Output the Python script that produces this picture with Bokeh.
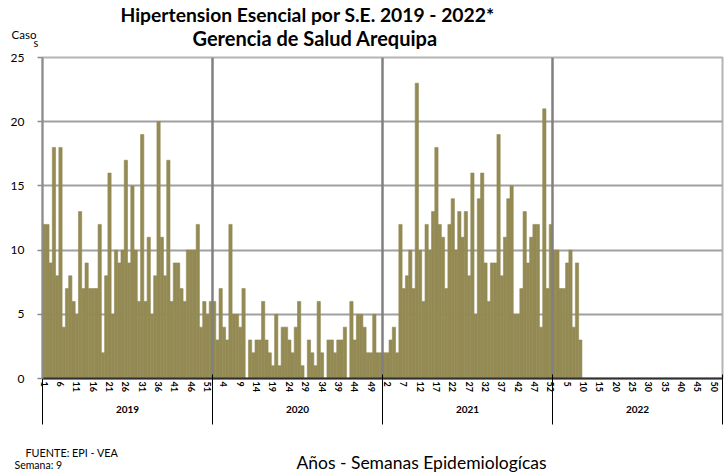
from bokeh.plotting import figure
from bokeh.layouts import column
from bokeh.models import ColumnDataSource, Range1d, FixedTicker, LinearAxis, CustomLabelingPolicy
from bokeh.embed import file_html
from bokeh.resources import INLINE
from bokeh.core.properties import value

# ---------------- data ----------------
years = ["2019", "2020", "2021", "2022"]
weeks_per_year = [52, 52, 52, 52]

cases_2019 = [12, 12, 9, 18, 8, 18, 4, 7, 8, 6, 5, 13, 7, 9, 7, 7, 7, 12, 2, 8,
              16, 5, 10, 9, 10, 17, 9, 15, 10, 6, 19, 6, 11, 5, 8, 20, 11, 8, 17, 6,
              9, 9, 7, 6, 10, 10, 10, 12, 4, 6, 5, 6]
cases_2020 = [6, 3, 7, 4, 3, 12, 5, 5, 4, 7, 0, 3, 2, 3, 3, 6, 3, 2, 1, 5,
              1, 4, 4, 3, 2, 4, 6, 1, 0, 3, 2, 1, 6, 2, 0, 3, 3, 2, 3, 3,
              4, 0, 6, 3, 5, 5, 4, 2, 2, 5, 2, 2]
cases_2021 = [2, 2, 3, 4, 2, 12, 7, 8, 10, 7, 23, 10, 6, 12, 10, 13, 18, 12, 11, 7,
              12, 14, 10, 13, 11, 13, 8, 16, 5, 14, 16, 9, 6, 9, 9, 19, 8, 11, 14, 15,
              5, 5, 7, 13, 9, 11, 12, 12, 4, 21, 7, 12]
cases_2022 = [10, 10, 7, 7, 9, 10, 4, 9, 3]

y_ticks = [0, 5, 10, 15, 20, 25]
label_step = 5

title_1 = "Hipertension Esencial  por S.E. 2019 - 2022*"
title_2 = "Gerencia de Salud Arequipa"
y_title_a = "Caso"
y_title_b = "s"
x_title = "Años - Semanas Epidemiologícas"
source_note = "FUENTE: EPI - VEA"
week_note = "Semana: 9"

# ---------------- positions ----------------
series = [cases_2019, cases_2020, cases_2021, cases_2022]
xs, tops = [], []
week_labels = {}
starts = []
offset = 0
for n, vals in zip(weeks_per_year, series):
    starts.append(offset)
    for w in range(n):
        idx = offset + w
        if idx % label_step == 0:
            week_labels[idx] = str(w + 1)
        if w < len(vals):
            xs.append(idx)
            tops.append(vals[w])
    offset += n
total = offset
boundaries = [s - 0.5 for s in starts] + [total - 0.5]
centers = [s + n / 2 - 0.5 for s, n in zip(starts, weeks_per_year)]
year_labels = {c: y for c, y in zip(centers, years)}

FONT = "Lato"
BAR = "#948A54"
W = 728
H_HEAD, H_MAIN, H_FOOT = 49, 391, 36


def no_align(f):
    if "frame_align" in f.properties():
        f.frame_align = False


def text(fig, x, y, s, size, bold=False, align="left"):
    fig.text(x=[x], y=[y], text=[s], text_font=value(FONT),
             text_font_style="bold" if bold else "normal", text_font_size=size,
             text_align=align, text_baseline="alphabetic", text_color="#000000")


# ---------------- header ----------------
head = figure(width=W, height=H_HEAD, x_range=Range1d(0, W), y_range=Range1d(H_HEAD, 0),
              x_axis_type=None, y_axis_type=None, output_backend="svg", toolbar_location=None,
              min_border=0, title=None)
head.outline_line_color = None
head.border_fill_color = "white"
no_align(head)
text(head, 120, 14.3, title_1, "19.3px", bold=True)
text(head, 192, 37.5, title_2, "20px", bold=True)
text(head, 11, 33.5, y_title_a, "11.5px")
text(head, 33, 41.5, y_title_b, "11px")

# ---------------- main chart ----------------
src = ColumnDataSource(dict(x=xs, top=tops))
p = figure(width=W, height=H_MAIN, x_range=Range1d(-0.5, total - 0.5), y_range=Range1d(0, 25),
           output_backend="svg", toolbar_location=None, title=None,
           min_border_left=42, min_border_right=6, min_border_top=8, min_border_bottom=62)
p.background_fill_color = "white"
p.border_fill_color = "white"
p.outline_line_color = "#B4B4B4"
p.outline_line_width = 2
no_align(p)

p.vbar(x="x", top="top", width=1.0, bottom=0, source=src, fill_color=BAR,
       line_color=BAR, line_width=0.6)

for b in boundaries[1:-1]:
    p.segment(x0=b, y0=0, x1=b, y1=25, line_color="#808080", line_width=2.5)

p.xgrid.visible = False
p.ygrid.ticker = FixedTicker(ticks=y_ticks)
p.ygrid.grid_line_color = "#A0A0A0"
p.ygrid.grid_line_width = 2

ya = p.yaxis[0]
ya.ticker = FixedTicker(ticks=y_ticks, minor_ticks=[])
ya.axis_line_color = "#8C8C8C"
ya.axis_line_width = 2
ya.major_tick_out = 5
ya.major_tick_in = 0
ya.major_tick_line_color = "#8C8C8C"
ya.major_tick_line_width = 1.5
ya.minor_tick_line_color = None
ya.major_label_standoff = 13
ya.major_label_text_font = FONT
ya.major_label_text_font_size = "12px"
ya.major_label_text_color = "#000000"

xa = p.xaxis[0]
xa.ticker = FixedTicker(ticks=sorted(week_labels), minor_ticks=[])
xa.major_label_overrides = week_labels
xa.major_label_orientation = "vertical"
xa.major_tick_line_color = None
xa.minor_tick_line_color = None
xa.major_tick_out = 0
xa.major_tick_in = 0
xa.minor_tick_out = 0
xa.minor_tick_in = 0
xa.axis_line_color = "#303030"
xa.axis_line_width = 2
xa.major_label_standoff = 3
xa.major_label_text_font = FONT
xa.major_label_text_font_style = "bold"
xa.major_label_text_font_size = "9px"
xa.major_label_text_color = "#000000"

year_axis = LinearAxis(ticker=FixedTicker(ticks=centers, minor_ticks=[]),
                       major_label_overrides=year_labels)
year_axis.axis_line_color = None
year_axis.major_tick_line_color = None
year_axis.minor_tick_line_color = None
year_axis.major_tick_out = 0
year_axis.major_tick_in = 0
year_axis.minor_tick_out = 0
year_axis.minor_tick_in = 0
year_axis.major_label_standoff = 11
year_axis.major_label_text_font = FONT
year_axis.major_label_text_font_style = "bold"
year_axis.major_label_text_font_size = "10px"
year_axis.major_label_text_color = "#000000"
p.add_layout(year_axis, "below")

# group separators: ticks of a label-less axis reaching up to the baseline
sep_axis = LinearAxis(ticker=FixedTicker(ticks=boundaries, minor_ticks=[]))
sep_axis.axis_line_color = None
sep_axis.major_tick_in = 41
sep_axis.major_tick_out = 9
sep_axis.major_tick_line_color = "#000000"
sep_axis.major_tick_line_width = 1
sep_axis.minor_tick_line_color = None
sep_axis.major_label_policy = CustomLabelingPolicy(
    code="for (const i of indices) indices.unset(i); return indices")
sep_axis.major_label_text_font_size = "1px"
sep_axis.major_label_standoff = 0
p.add_layout(sep_axis, "below")

# ---------------- footer ----------------
foot = figure(width=W, height=H_FOOT, x_range=Range1d(0, W), y_range=Range1d(H_FOOT, 0),
              x_axis_type=None, y_axis_type=None, output_backend="svg", toolbar_location=None,
              min_border=0, title=None)
foot.outline_line_color = None
foot.border_fill_color = "white"
no_align(foot)
text(foot, 25, 12.2, source_note, "10.8px")
text(foot, 14, 24.8, week_note, "10.5px")
text(foot, 421, 21.9, x_title, "17.5px", align="center")

layout = column(head, p, foot, spacing=0)
open("out.html", "w").write(file_html(layout, INLINE))
